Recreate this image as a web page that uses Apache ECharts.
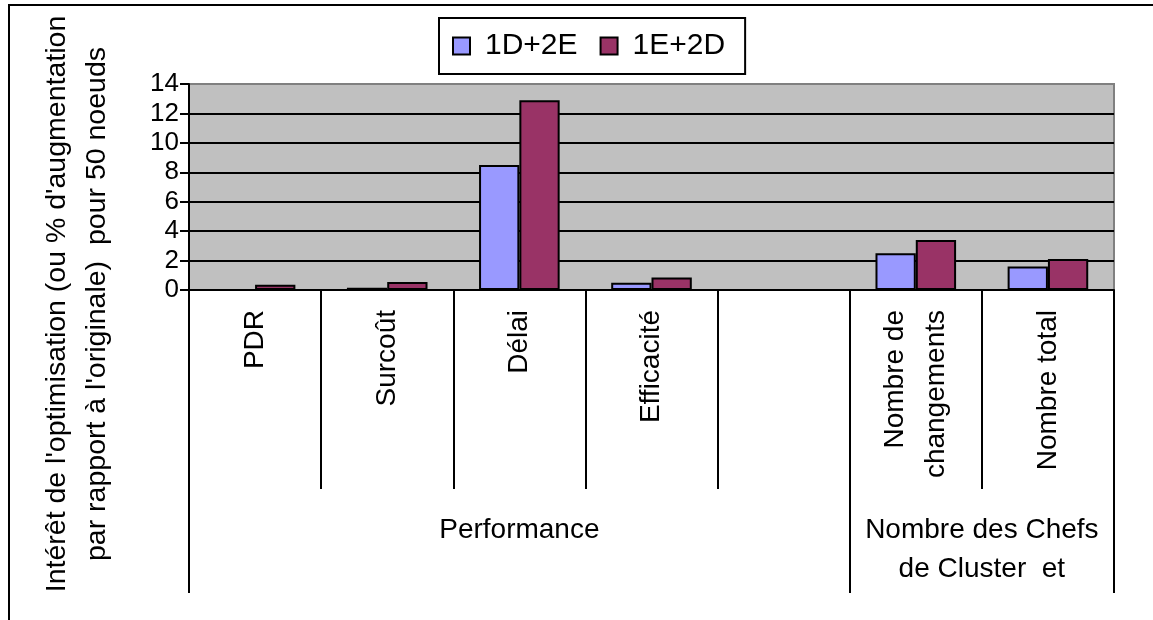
<!DOCTYPE html>
<html>
<head>
<meta charset="utf-8">
<script src="https://cdn.jsdelivr.net/npm/echarts@6/dist/echarts.min.js"></script>
<style>
html,body{margin:0;padding:0;background:#fff;}
#chart{width:1153px;height:620px;}
</style>
</head>
<body>
<div id="chart"></div>
<script>
// ---- data ----
const categories = ['PDR', 'Surcoût', 'Délai', 'Efficacité', '', 'Nombre de\nchangements', 'Nombre total'];
const seriesNames = ['1D+2E', '1E+2D'];
const values1D2E = [0, 0.15, 8.5, 0.5, null, 2.5, 1.6];
const values1E2D = [0.35, 0.55, 12.9, 0.85, null, 3.4, 2.1];
const groupLabels = ['Performance', 'Nombre des Chefs\nde Cluster  et'];
const groupSpans = [5, 2];
const yTicks = [0, 2, 4, 6, 8, 10, 12, 14];
const yTitle = "Intérêt de l'optimisation (ou % d'augmentation\npar rapport à l'originale)  pour 50 noeuds";

// derived group boundaries / centers
const groupBounds = [0];
groupSpans.forEach(s => groupBounds.push(groupBounds[groupBounds.length - 1] + s));
const groupCenters = groupSpans.map((s, i) => groupBounds[i] + s / 2);

const FONT = 'Liberation Sans, Arial, sans-serif';
const chart = echarts.init(document.getElementById('chart'), null, {renderer: 'canvas'});

chart.setOption({
  animation: false,
  backgroundColor: '#ffffff',
  textStyle: {fontFamily: FONT, color: '#000'},
  legend: {
    data: seriesNames,
    left: 439, top: 18,
    orient: 'horizontal',
    itemWidth: 17, itemHeight: 17,
    itemGap: 22,
    padding: [13, 20, 13, 13],
    borderColor: '#000', borderWidth: 2,
    backgroundColor: '#fff',
    icon: 'rect',
    textStyle: {fontSize: 30, color: '#000', fontFamily: FONT, padding: [0, 0, 0, 10]}
  },
  grid: {
    left: 189, top: 84, width: 925, height: 206,
    show: true, backgroundColor: '#C0C0C0', borderColor: '#808080', borderWidth: 2
  },
  xAxis: [{
    type: 'category',
    data: categories,
    position: 'bottom',
    axisLine: {show: true, lineStyle: {color: '#000', width: 2}},
    axisTick: {show: true, length: 199, lineStyle: {color: '#000', width: 2}},
    axisLabel: {
      rotate: 90, fontSize: 28, color: '#000', fontFamily: FONT,
      margin: 20, lineHeight: 41, interval: 0
    },
    splitLine: {show: false}
  }, {
    type: 'value',
    min: groupBounds[0], max: groupBounds[groupBounds.length - 1],
    position: 'bottom',
    axisLine: {show: false},
    axisTick: {show: true, length: 303, customValues: groupBounds, lineStyle: {color: '#000', width: 2}},
    axisLabel: {
      show: true, customValues: groupCenters, fontSize: 28, color: '#000', fontFamily: FONT,
      margin: 221, lineHeight: 39, align: 'center',
      formatter: v => {
        const i = groupCenters.indexOf(v);
        return i >= 0 ? groupLabels[i] : '';
      }
    },
    splitLine: {show: false}
  }],
  yAxis: {
    type: 'value',
    min: 0, max: 14, interval: 2,
    axisLine: {show: true, lineStyle: {color: '#000', width: 2}},
    axisTick: {show: true, length: 9, lineStyle: {color: '#000', width: 2}},
    axisLabel: {fontSize: 26, color: '#000', fontFamily: FONT, margin: 10,
      formatter: v => yTicks.includes(v) ? String(v) : ''},
    splitLine: {show: true, showMaxLine: false, lineStyle: {color: '#000', width: 2}}
  },
  series: [{
    name: seriesNames[0], type: 'bar', xAxisIndex: 0,
    data: values1D2E,
    barGap: '0%', barCategoryGap: '39%',
    itemStyle: {color: '#9999FF', borderColor: '#000', borderWidth: 2}
  }, {
    name: seriesNames[1], type: 'bar', xAxisIndex: 0,
    data: values1E2D,
    barGap: '0%', barCategoryGap: '39%',
    itemStyle: {color: '#993366', borderColor: '#000', borderWidth: 2}
  }],
  graphic: [{
    type: 'rect', z: -10, silent: true,
    shape: {x: 9, y: 5, width: 1200, height: 700},
    style: {fill: 'none', stroke: '#000', lineWidth: 2}
  }, {
    type: 'text', x: 77, y: 304, rotation: Math.PI / 2,
    style: {
      text: yTitle, fontSize: 28.5, fontFamily: FONT, fill: '#000',
      align: 'center', verticalAlign: 'middle', lineHeight: 40
    }
  }]
});
</script>
</body>
</html>
